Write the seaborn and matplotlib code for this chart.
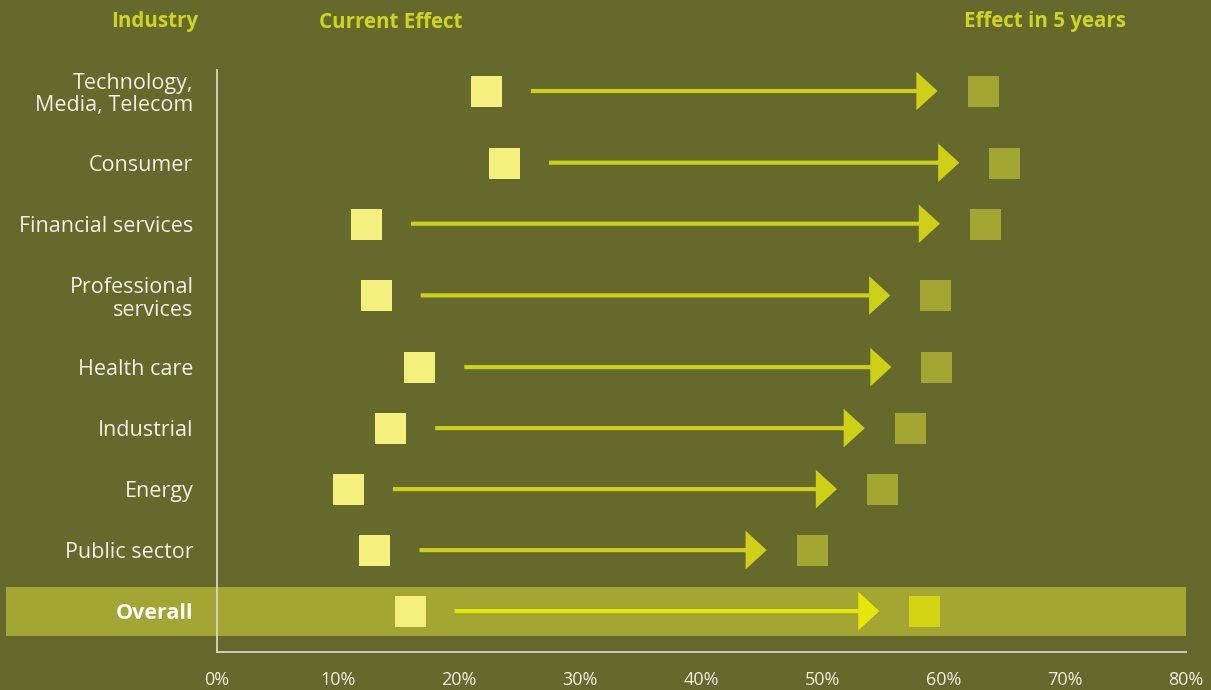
import numpy as np
import pandas as pd
import matplotlib
matplotlib.use("Agg")
import matplotlib.pyplot as plt
from matplotlib.patches import Rectangle
import matplotlib.transforms as mtransforms
import seaborn as sns

industries = ["Technology,\nMedia, Telecom", "Consumer", "Financial services",
              "Professional\nservices", "Health care", "Industrial", "Energy",
              "Public sector", "Overall"]
current_effect = [22.2, 23.7, 12.3, 13.1, 16.7, 14.3, 10.8, 13.0, 15.9]
effect_5_years = [63.2, 65.0, 63.4, 59.3, 59.4, 57.2, 54.9, 49.1, 58.4]
x_ticks = [0, 10, 20, 30, 40, 50, 60, 70, 80]
x_tick_labels = [f"{t}%" for t in x_ticks]
headers = ["Industry", "Current Effect", "Effect in 5 years"]

BG = "#65692b"
BAND = "#a3a632"
CUR = "#f5f07e"
FUT = "#a3a632"
FUT_HI = "#d4d414"
ARROW = "#cdd016"
ARROW_HI = "#e6e60c"
TXT = "#f2f2e6"
HEAD = "#d0d41a"
SPINE = "#d6d6c6"

sns.set_theme(style="white")
plt.rcParams["font.family"] = ["Open Sans", "DejaVu Sans"]

W, H = 1211, 690
fig = plt.figure(figsize=(W / 100, H / 100), dpi=100, facecolor=BG)
ax = fig.add_axes([217 / W, 1 - 652 / H, (1186 - 217) / W, (652 - 70) / H])
ax.set_facecolor("none")

# row centers (layout derived from number of label lines)
half = {1: 30.5, 2: 41.2}
ys = []
pos = 91.0
prev = None
for lab in industries:
    n = lab.count("\n") + 1
    if prev is not None:
        pos += half[prev] + half[n]
    ys.append(pos)
    prev = n

df = pd.DataFrame({"industry": industries, "y": ys,
                   "current": current_effect, "future": effect_5_years})
df["is_overall"] = df["industry"] == "Overall"

ax.set_xlim(0, 80)
ax.set_ylim(652, 70)

# Overall band extending to the left of the axes
trans = mtransforms.blended_transform_factory(fig.transFigure, ax.transData)
yo = df.loc[df.is_overall, "y"].iloc[0]
band = Rectangle((6 / W, yo - 24.5), (1186 - 6) / W, 49, transform=trans,
                 facecolor=BAND, edgecolor="none", zorder=0, clip_on=False)
ax.add_patch(band)

msize = (31 * 0.72) ** 2
sns.scatterplot(data=df, x="current", y="y", marker="s", s=msize, color=CUR,
                linewidth=0, ax=ax, zorder=3, legend=False)
sns.scatterplot(data=df[~df.is_overall], x="future", y="y", marker="s", s=msize,
                color=FUT, linewidth=0, ax=ax, zorder=3, legend=False)
sns.scatterplot(data=df[df.is_overall], x="future", y="y", marker="s", s=msize,
                color=FUT_HI, linewidth=0, ax=ax, zorder=3, legend=False)

gap = 45 / ((1186 - 217) / 80)
for _, r in df.iterrows():
    col = ARROW_HI if r.is_overall else ARROW
    ax.annotate("", xy=(r.future - gap, r.y), xytext=(r.current + gap, r.y),
                arrowprops=dict(arrowstyle="-|>,head_length=1.15,head_width=1.05",
                                mutation_scale=10, lw=3.0, color=col,
                                shrinkA=0, shrinkB=0, joinstyle="miter",
                                capstyle="butt"),
                zorder=2)

ax.set_xticks(x_ticks)
ax.set_xticklabels(x_tick_labels, color=TXT, fontsize=13)
ax.set_yticks(df["y"])
ax.set_yticklabels(df["industry"], color=TXT, fontsize=15.5, linespacing=1.1)
for lab in ax.get_yticklabels():
    if lab.get_text() == "Overall":
        lab.set_fontweight("bold")
        lab.set_color("white")
ax.tick_params(axis="x", length=0, pad=14)
ax.tick_params(axis="y", length=0, pad=17)
ax.set_xlabel("")
ax.set_ylabel("")
for s in ["top", "right"]:
    ax.spines[s].set_visible(False)
for s in ["left", "bottom"]:
    ax.spines[s].set_color(SPINE)
    ax.spines[s].set_linewidth(1.3)

hy = 1 - 22 / H
fig.text(198 / W, hy, headers[0], color=HEAD, fontsize=14.8,
         fontweight="bold", ha="right", va="center")
fig.text(319 / W, hy, headers[1], color=HEAD, fontsize=14.8,
         fontweight="bold", ha="left", va="center")
fig.text(964 / W, hy, headers[2], color=HEAD, fontsize=14.8,
         fontweight="bold", ha="left", va="center")

fig.savefig("out.png", dpi=100, facecolor=BG)
